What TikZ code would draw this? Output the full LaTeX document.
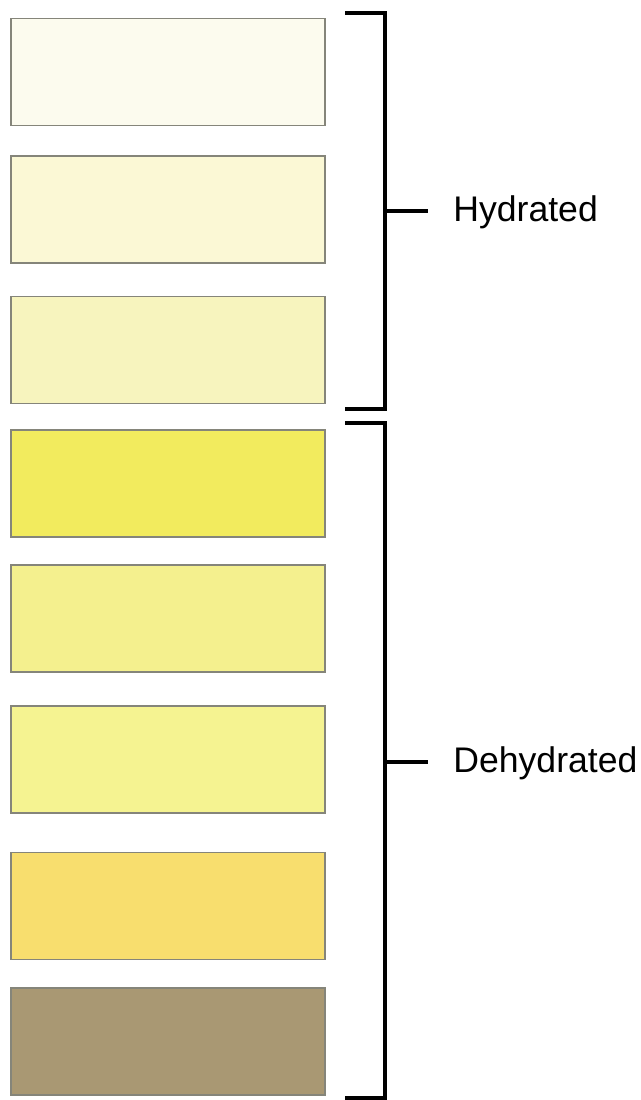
\documentclass[tikz,border=0pt]{standalone}
\usepackage{fontspec}
\setmainfont{Liberation Sans}
\usepackage{tikz}
\usetikzlibrary{positioning}
\definecolor{urineA}{HTML}{FCFBEE}
\definecolor{urineB}{HTML}{FBF8D5}
\definecolor{urineC}{HTML}{F7F4BE}
\definecolor{urineD}{HTML}{F2EB5E}
\definecolor{urineE}{HTML}{F4F08E}
\definecolor{urineF}{HTML}{F5F391}
\definecolor{urineG}{HTML}{F8DE6E}
\definecolor{urineH}{HTML}{A99873}
\definecolor{stripline}{HTML}{85857A}

\begin{document}
\begin{tikzpicture}[x=0.5pt,y=-0.5pt]
  \tikzset{
    strip/.style={rectangle, draw=stripline, line width=0.75pt,
          minimum width=157pt, minimum height=53.5pt, inner sep=0pt},
    brace/.style={line width=2pt, line join=miter},
    tag/.style={anchor=west, inner sep=0pt, font=\fontsize{17.8}{20}\selectfont}
  }

  \useasboundingbox (0,0) rectangle (641,1100);

  \node[strip, fill=urineA] (s1) at (168,72) {};
  \node[strip, fill=urineB] (s2) at (168,209.5) {};
  \node[strip, fill=urineC] (s3) at (168,350) {};
  \node[strip, fill=urineD] (s4) at (168,483.5) {};
  \node[strip, fill=urineE] (s5) at (168,618.5) {};
  \node[strip, fill=urineF] (s6) at (168,759.5) {};
  \node[strip, fill=urineG] (s7) at (168,906) {};
  \node[strip, fill=urineH] (s8) at (168,1041.5) {};

  % brackets
  \draw[brace] (345,12.7) -- (385,12.7) -- (385,409) -- (345,409);
  \draw[brace] (345,423) -- (385,423) -- (385,1098) -- (345,1098);

  \node[tag] (hyd) at (453,212) {Hydrated};
  \node[tag] (dehyd) at (453,763) {Dehydrated};

  \coordinate (hydtick) at (385,211);
  \coordinate (dehydtick) at (385,762);
  \draw[line width=2pt] (hydtick) -- ([xshift=-12.5pt]hyd.west |- hydtick);
  \draw[line width=2pt] (dehydtick) -- ([xshift=-12.5pt]dehyd.west |- dehydtick);
\end{tikzpicture}
\end{document}
